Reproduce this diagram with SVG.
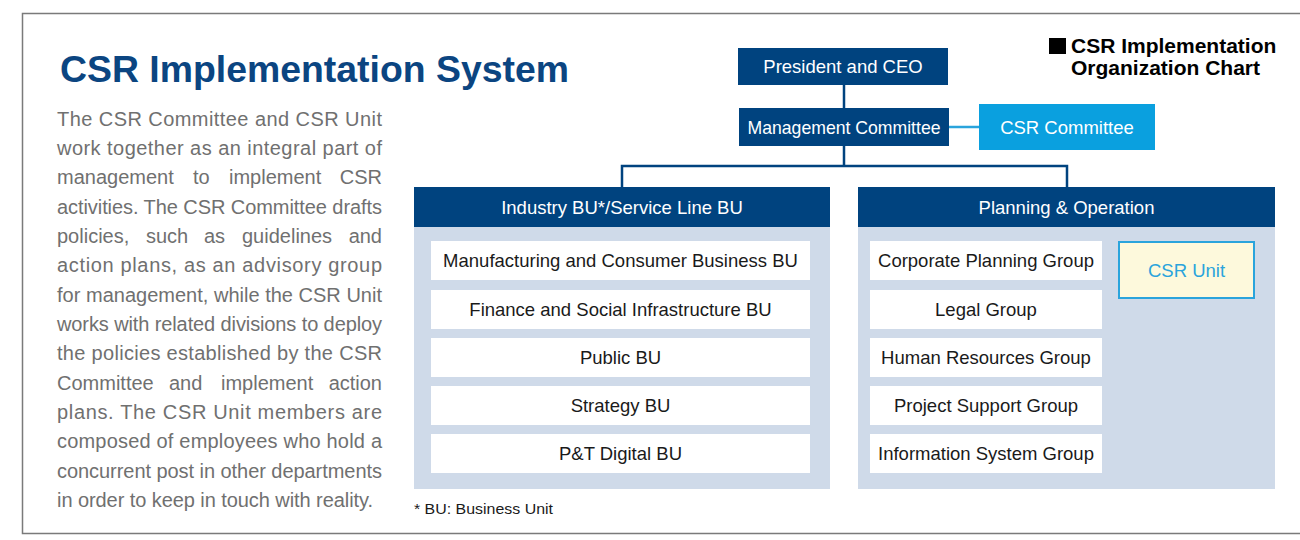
<svg xmlns="http://www.w3.org/2000/svg" width="1300" height="540" viewBox="0 0 1300 540">
<style>
text{font-family:"Liberation Sans",Arial,Helvetica,sans-serif}
.dark{fill:#00437f}
.panel{fill:#cfdae9}
.wbox{fill:#ffffff}
.wt{fill:#ffffff;font-size:18.5px;text-anchor:middle}
.bt{fill:#1a1a1a;font-size:18.5px;text-anchor:middle}
.para{fill:#707070;font-size:20px}
.conn{stroke:#00437f;stroke-width:2.5;fill:none}
.lconn{stroke:#2aa4dc;stroke-width:2.5;fill:none}
</style>
<rect x="0" y="0" width="1300" height="540" fill="#ffffff"/>
<path d="M1302 13.5 H22.5 V533.5 H1302" fill="none" stroke="#7a7a7a" stroke-width="1.5"/>

<g id="title">
<text x="60" y="82" font-size="37.4" font-weight="bold" fill="#0b4581">CSR Implementation System</text>
</g>

<g id="description" class="para">
<text x="57" y="126" textLength="325" lengthAdjust="spacing">The CSR Committee and CSR Unit</text>
<text x="57" y="155" textLength="325" lengthAdjust="spacing">work together as an integral part of</text>
<text y="184"><tspan x="57">management</tspan><tspan x="193">to</tspan><tspan x="229">implement</tspan><tspan x="382" text-anchor="end">CSR</tspan></text>
<text x="57" y="214" textLength="325" lengthAdjust="spacing">activities. The CSR Committee drafts</text>
<text y="243"><tspan x="57">policies,</tspan><tspan x="146">such</tspan><tspan x="204">as</tspan><tspan x="242">guidelines</tspan><tspan x="382" text-anchor="end">and</tspan></text>
<text x="57" y="272" textLength="325" lengthAdjust="spacing">action plans, as an advisory group</text>
<text x="57" y="302" textLength="325" lengthAdjust="spacing">for management, while the CSR Unit</text>
<text x="57" y="331" textLength="325" lengthAdjust="spacing">works with related divisions to deploy</text>
<text x="57" y="360" textLength="325" lengthAdjust="spacing">the policies established by the CSR</text>
<text y="390"><tspan x="57">Committee</tspan><tspan x="169">and</tspan><tspan x="221">implement</tspan><tspan x="382" text-anchor="end">action</tspan></text>
<text x="57" y="419" textLength="325" lengthAdjust="spacing">plans. The CSR Unit members are</text>
<text x="57" y="448" textLength="325" lengthAdjust="spacing">composed of employees who hold a</text>
<text x="57" y="478" textLength="325" lengthAdjust="spacing">concurrent post in other departments</text>
<text x="57" y="507" textLength="316" lengthAdjust="spacing">in order to keep in touch with reality.</text>
</g>

<g id="legend">
<rect x="1049" y="38" width="17" height="16" fill="#000000"/>
<text x="1071" y="53" font-size="21" font-weight="bold" fill="#000000">CSR Implementation</text>
<text x="1071" y="75" font-size="21" font-weight="bold" fill="#000000">Organization Chart</text>
</g>

<g id="connectors">
<line class="conn" x1="844" y1="85" x2="844" y2="108"/>
<line class="lconn" x1="949" y1="127" x2="979" y2="127"/>
<path class="conn" d="M844 146 V166 M622 187 V166 H1067 V187"/>
<line class="lconn" x1="1102" y1="260.5" x2="1118" y2="260.5"/>
</g>

<g id="president">
<rect class="dark" x="738" y="48" width="210" height="37"/>
<text class="wt" x="843" y="73">President and CEO</text>
</g>

<g id="management">
<rect class="dark" x="739" y="108" width="210" height="38"/>
<text class="wt" x="844" y="133.5" textLength="193" lengthAdjust="spacingAndGlyphs">Management Committee</text>
</g>

<g id="csr-committee">
<rect x="979" y="104" width="176" height="46" fill="#0aa0df"/>
<text class="wt" x="1067" y="133.5">CSR Committee</text>
</g>

<g id="industry-bu">
<rect class="panel" x="414" y="227" width="416" height="262"/>
<rect class="dark" x="414" y="187" width="416" height="40"/>
<text class="wt" x="622" y="214">Industry BU*/Service Line BU</text>
</g>

<g id="bu-manufacturing">
<rect class="wbox" x="431" y="241" width="379" height="39"/>
<text class="bt" x="620.5" y="267">Manufacturing and Consumer Business BU</text>
</g>
<g id="bu-finance">
<rect class="wbox" x="431" y="290" width="379" height="39"/>
<text class="bt" x="620.5" y="316">Finance and Social Infrastructure BU</text>
</g>
<g id="bu-public">
<rect class="wbox" x="431" y="338" width="379" height="39"/>
<text class="bt" x="620.5" y="364">Public BU</text>
</g>
<g id="bu-strategy">
<rect class="wbox" x="431" y="386" width="379" height="39"/>
<text class="bt" x="620.5" y="412">Strategy BU</text>
</g>
<g id="bu-pt-digital">
<rect class="wbox" x="431" y="434" width="379" height="39"/>
<text class="bt" x="620.5" y="460">P&amp;T Digital BU</text>
</g>

<g id="planning-operation">
<rect class="panel" x="858" y="227" width="417" height="262"/>
<rect class="dark" x="858" y="187" width="417" height="40"/>
<text class="wt" x="1066.5" y="214">Planning &amp; Operation</text>
</g>

<g id="corporate-planning">
<rect class="wbox" x="870" y="241" width="232" height="39"/>
<text class="bt" x="986" y="267">Corporate Planning Group</text>
</g>
<g id="legal">
<rect class="wbox" x="870" y="290" width="232" height="39"/>
<text class="bt" x="986" y="316">Legal Group</text>
</g>
<g id="human-resources">
<rect class="wbox" x="870" y="338" width="232" height="39"/>
<text class="bt" x="986" y="364">Human Resources Group</text>
</g>
<g id="project-support">
<rect class="wbox" x="870" y="386" width="232" height="39"/>
<text class="bt" x="986" y="412">Project Support Group</text>
</g>
<g id="information-system">
<rect class="wbox" x="870" y="434" width="232" height="39"/>
<text class="bt" x="986" y="460">Information System Group</text>
</g>

<g id="csr-unit">
<rect x="1119" y="242" width="135" height="56" fill="#fdf9dc" stroke="#2aa4dc" stroke-width="2"/>
<text x="1186.5" y="277" font-size="18.5" text-anchor="middle" fill="#2aa4dc">CSR Unit</text>
</g>

<g id="footnote">
<text x="414" y="514" font-size="15" fill="#1a1a1a" textLength="139" lengthAdjust="spacingAndGlyphs">* BU: Business Unit</text>
</g>
</svg>
